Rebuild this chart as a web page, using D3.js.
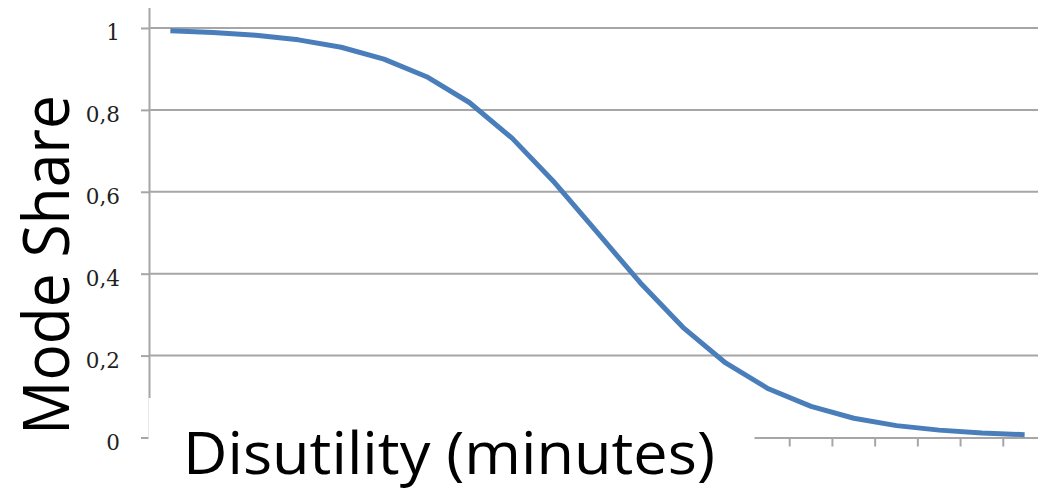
<!DOCTYPE html>
<html>
<head>
<meta charset="utf-8">
<script src="https://cdn.jsdelivr.net/npm/d3@7"></script>
<style>
  html, body { margin: 0; padding: 0; background: #fff; }
  svg { display: block; }
</style>
</head>
<body>
<svg id="chart" width="1038" height="490"></svg>
<script>
// ---- data ----
const categories = d3.range(1, 22).map(String);
const modeShare = [0.993, 0.989, 0.982, 0.971, 0.953, 0.924, 0.881, 0.818, 0.731, 0.622,
                   0.500, 0.378, 0.269, 0.182, 0.119, 0.076, 0.047, 0.029, 0.018, 0.011, 0.007];
const yTickValues = [0, 0.2, 0.4, 0.6, 0.8, 1];
const yTickLabels = ["0", "0,2", "0,4", "0,6", "0,8", "1"];
const yTitle = "Mode Share";
const xTitle = "Disutility (minutes)";

// ---- layout ----
const svg = d3.select("#chart");
const plotLeft = 149, plotRight = 1046, plotTop = 7.5, plotBottom = 437.5;
const gridColor = "#a6a6a6";

const x = d3.scaleBand().domain(categories).range([plotLeft, plotRight]).padding(0);
const y = d3.scaleLinear().domain([0, 1.05]).range([plotBottom, plotTop]);

// gridlines
svg.append("g")
  .selectAll("line")
  .data(yTickValues.filter(v => v > 0))
  .join("line")
  .attr("x1", plotLeft).attr("x2", 1038)
  .attr("y1", d => y(d)).attr("y2", d => y(d))
  .attr("stroke", gridColor).attr("stroke-width", 2);

// y axis
const yAxis = svg.append("g")
  .attr("transform", `translate(${plotLeft},0)`)
  .call(d3.axisLeft(y).tickValues(yTickValues).tickSize(8).tickSizeOuter(0)
        .tickFormat((d, i) => yTickLabels[i]));
yAxis.select(".domain").attr("stroke", gridColor).attr("stroke-width", 2);
yAxis.selectAll(".tick line").attr("stroke", gridColor).attr("stroke-width", 2);
yAxis.selectAll(".tick text")
  .attr("x", -29).attr("dy", null).attr("y", 12)
  .attr("fill", "#1f1f1f")
  .style("font-family", "'DejaVu Serif', serif")
  .style("font-size", "21.5px");

// x axis (category axis with ticks between categories)
const xAxis = svg.append("g")
  .attr("transform", `translate(0,${plotBottom})`)
  .call(d3.axisBottom(x).tickSize(0).tickFormat(""));
xAxis.select(".domain").attr("stroke", gridColor).attr("stroke-width", 2);
xAxis.selectAll(".tick").remove();
xAxis.selectAll("line.sep")
  .data(categories.slice(1))
  .join("line")
  .attr("class", "sep")
  .attr("x1", d => x(d)).attr("x2", d => x(d))
  .attr("y1", 0).attr("y2", 9)
  .attr("stroke", gridColor).attr("stroke-width", 2);

// white label box covering axis portion
svg.append("rect")
  .attr("x", 148.5).attr("y", 398).attr("width", 606).attr("height", 92)
  .attr("fill", "#fff");

// curve
const line = d3.line()
  .x((d, i) => x(categories[i]) + x.bandwidth() / 2)
  .y(d => y(d));
svg.append("path")
  .datum(modeShare)
  .attr("d", line)
  .attr("fill", "none")
  .attr("stroke", "#4a7ebb")
  .attr("stroke-width", 5)
  .attr("stroke-linejoin", "round");

// titles
svg.append("text")
  .attr("transform", "translate(69,265) rotate(-90)")
  .attr("text-anchor", "middle")
  .attr("textLength", 340)
  .attr("lengthAdjust", "spacingAndGlyphs")
  .style("font-family", "'Open Sans', sans-serif")
  .style("font-size", "64px")
  .attr("fill", "#000")
  .text(yTitle);

svg.append("text")
  .attr("x", 183).attr("y", 474)
  .attr("textLength", 532)
  .attr("lengthAdjust", "spacingAndGlyphs")
  .style("font-family", "'Open Sans', sans-serif")
  .style("font-size", "58px")
  .attr("fill", "#000")
  .text(xTitle);
</script>
</body>
</html>
